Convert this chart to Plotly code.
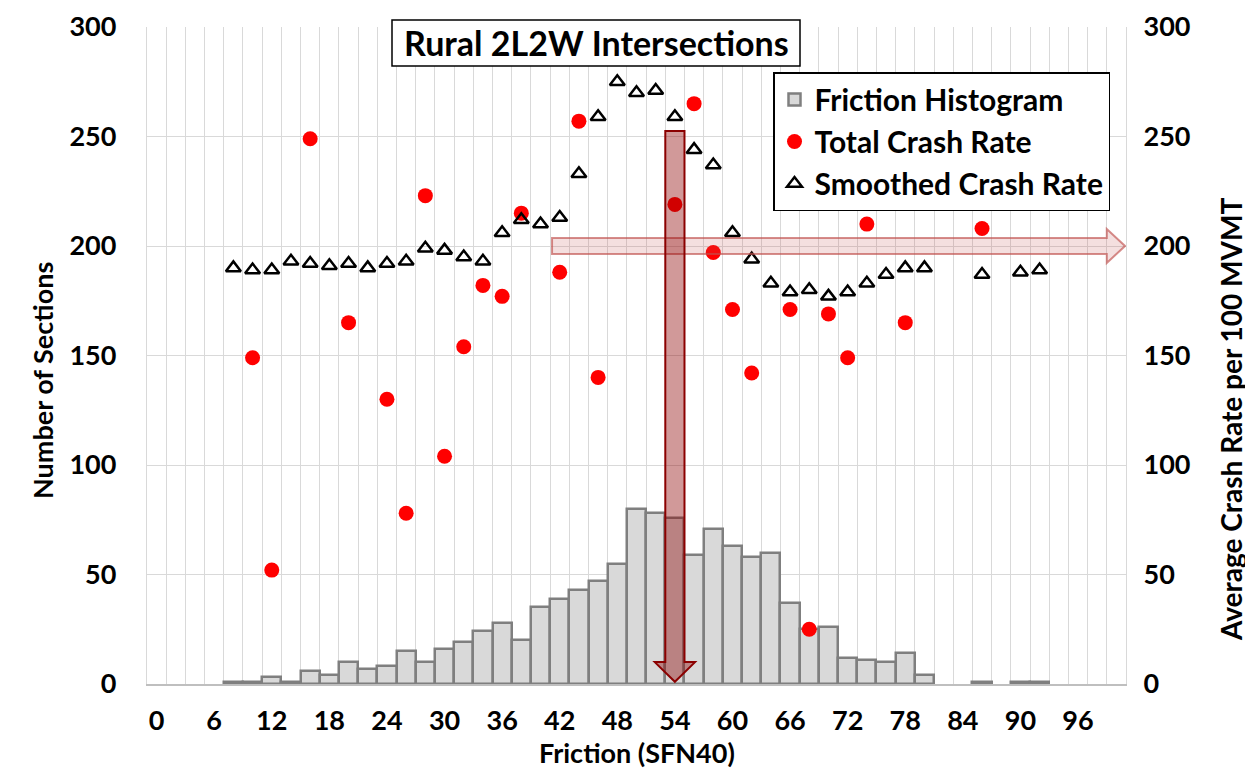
import plotly.graph_objects as go

# ---------------- data ----------------
N = None
friction_bins = list(range(0, 101, 2))  # SFN40 bins (category centres)
section_counts = [0, 0, 0, 0, 1, 1, 3, 1, 6, 4, 10, 7, 8, 15, 10, 16, 19, 24, 28, 20,
                  35, 39, 43, 47, 55, 80, 78, 76, 59, 71, 63, 58, 60, 37, 25, 26, 12, 11,
                  10, 14, 4, 0, 0, 1, 0, 1, 1, 0, 0, 0, 0]
total_crash_rate = [N, N, N, N, N, 149, 52, N, 249, N, 165, N, 130, 78, 223, 104, 154, 182,
                    177, 215, N, 188, 257, 140, N, N, N, 219, 265, 197, 171, 142, N, 171, 25,
                    169, 149, 210, N, 165, N, N, N, 208, N, N, N, N, N, N, N]
smoothed_crash_rate = [N, N, N, N, 190, 189, 189, 193, 192, 191, 192, 190, 192, 193, 199, 198,
                       195, 193, 206, 212, 210, 213, 233, 259, 275, 270, 271, 259, 244, 237,
                       206, 194, 183, 179, 180, 177, 179, 183, 187, 190, 190, N, N, 187, N, 188,
                       189, N, N, N, N]
x_tick_labels = list(range(0, 97, 6))
y_tick_labels = list(range(0, 301, 50))

OPTIMAL_FRICTION = 54
THRESHOLD_RATE = 200

FONT = "Lato"

bar_x = [f for f, c in zip(friction_bins, section_counts) if c > 0]
bar_y = [c for c in section_counts if c > 0]

fig = go.Figure()
fig.add_trace(go.Bar(
    x=bar_x, y=bar_y, width=2, name="Friction Histogram",
    marker=dict(color="#d9d9d9", line=dict(color="#7f7f7f", width=2.5)),
    yaxis="y",
))
fig.add_trace(go.Scatter(
    x=friction_bins, y=total_crash_rate, mode="markers", name="Total Crash Rate",
    marker=dict(symbol="circle", size=15, color="#ff0000"), yaxis="y2",
))
fig.add_trace(go.Scatter(
    x=friction_bins, y=smoothed_crash_rate, mode="markers", name="Smoothed Crash Rate",
    marker=dict(symbol="triangle-up-open", size=13, color="black", line=dict(width=2.5, color="black")),
    yaxis="y2",
))

# arrows (built from the two reference constants)
vx = OPTIMAL_FRICTION
v_top, v_head, v_tip, v_bw, v_hw = 252.5, 10, 1, 1.0, 2.1
v_path = (f"M{vx - v_bw},{v_top} L{vx + v_bw},{v_top} L{vx + v_bw},{v_head} L{vx + v_hw},{v_head} "
          f"L{vx},{v_tip} L{vx - v_hw},{v_head} L{vx - v_bw},{v_head} Z")
hy = THRESHOLD_RATE
h_left, h_head, h_tip, h_bw, h_hw = 41.2, 99.0, 100.9, 3.65, 7.75
h_path = (f"M{h_left},{hy - h_bw} L{h_head},{hy - h_bw} L{h_head},{hy - h_hw} L{h_tip},{hy} "
          f"L{h_head},{hy + h_hw} L{h_head},{hy + h_bw} L{h_left},{hy + h_bw} Z")

# page offset of the figure inside the browser page (default body margin)
OFF = 8
L, R, T, B = 147 - OFF, 127, 27 - OFF, 88
W, H = 1253 - OFF, 772 - OFF
PW, PH = W - L - R, H - T - B


def px(xp):
    """page x pixel -> paper x"""
    return (xp - OFF - L) / PW


def py(yp):
    """page y pixel -> paper y"""
    return (H - B - (yp - OFF)) / PH


shapes = [
    dict(type="path", path=h_path, xref="x", yref="y", layer="above",
         fillcolor="rgba(192,80,77,0.18)", line=dict(color="rgba(192,80,77,0.65)", width=2)),
    dict(type="path", path=v_path, xref="x", yref="y", layer="above",
         fillcolor="rgba(139,0,0,0.4)", line=dict(color="#8b0000", width=2)),
    # title box
    dict(type="rect", xref="paper", yref="paper", x0=px(392), x1=px(800), y0=py(66), y1=py(20),
         fillcolor="white", line=dict(color="black", width=1.5), layer="above"),
]

tickfont = dict(family=FONT, size=27, color="black", weight="bold")
annotations = [
    dict(text="Rural 2L2W Intersections", x=px(596), y=py(42), xref="paper", yref="paper",
         showarrow=False, xanchor="center", yanchor="middle",
         font=dict(family=FONT, size=34, color="black", weight="bold")),
    dict(text="Number of Sections", x=px(42), y=py(381), xref="paper", yref="paper",
         showarrow=False, textangle=-90, xanchor="center", yanchor="middle",
         font=dict(family=FONT, size=27, color="black", weight="bold")),
    dict(text="Average Crash Rate per 100 MVMT", x=px(1231), y=py(420), xref="paper", yref="paper",
         showarrow=False, textangle=-90, xanchor="center", yanchor="middle",
         font=dict(family=FONT, size=28, color="black", weight="bold")),
    dict(text="Friction (SFN40)", x=px(637), y=py(752), xref="paper", yref="paper",
         showarrow=False, xanchor="center", yanchor="middle",
         font=dict(family=FONT, size=27, color="black", weight="bold")),
]

fig.update_layout(
    width=W, height=H,
    margin=dict(l=L, r=R, t=T, b=B, pad=0, autoexpand=False),
    paper_bgcolor="white", plot_bgcolor="white",
    bargap=0,
    showlegend=True,
    legend=dict(x=px(773), y=py(72), xanchor="left", yanchor="top",
                bgcolor="white", bordercolor="black", borderwidth=1.5,
                font=dict(family=FONT, size=30, color="black", weight="bold"),
                traceorder="normal"),
    xaxis=dict(range=[-1, 101], tickmode="array", tickvals=x_tick_labels, automargin=False,
               ticktext=[str(v) for v in x_tick_labels], showgrid=False, zeroline=False,
               tickfont=tickfont, ticks="", ticklabelstandoff=12,
               showline=True, linecolor="#bfbfbf", linewidth=2,
               minor=dict(tick0=1, dtick=2, showgrid=True, gridcolor="#d9d9d9", gridwidth=1.3)),
    yaxis=dict(range=[0, 300], tickmode="array", tickvals=y_tick_labels, showgrid=True,
               automargin=False,
               gridcolor="#d9d9d9", gridwidth=1.3, zeroline=False, tickfont=tickfont,
               ticks="", ticklabelstandoff=24, showline=True, linecolor="#d9d9d9", linewidth=1.3),
    yaxis2=dict(range=[0, 300], tickmode="array", tickvals=y_tick_labels, overlaying="y",
                automargin=False,
                side="right", showgrid=False, zeroline=False, tickfont=tickfont, ticks="",
                ticklabelstandoff=11, showline=True, linecolor="#d9d9d9", linewidth=1.3),
    shapes=shapes,
    annotations=annotations,
)

fig.write_html("out.html")
